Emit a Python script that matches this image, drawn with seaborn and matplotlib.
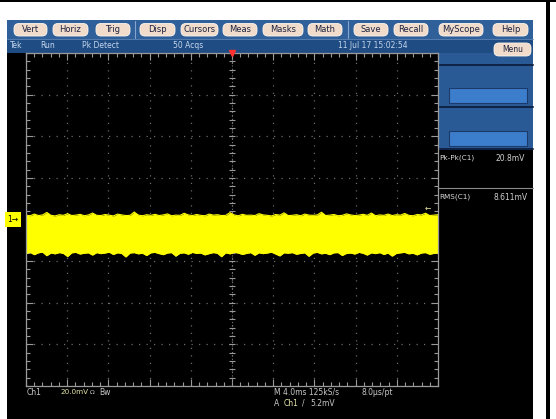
import numpy as np
import pandas as pd
import matplotlib
matplotlib.use("Agg")
import matplotlib.pyplot as plt
import seaborn as sns
from matplotlib.patches import Rectangle, FancyBboxPatch

# ---------------- data ----------------
menu_buttons = ["Vert", "Horiz", "Trig", "Disp", "Cursors", "Meas",
                "Masks", "Math", "Save", "Recall", "MyScope", "Help"]
status_items = ["Tek", "Run", "Pk Detect", "50 Acqs", "11 Jul 17 15:02:54"]
meas_labels = ["Pk-Pk(C1)", "RMS(C1)"]
meas_values = ["20.8mV", "8.611mV"]
ch_readout = ["Ch1", "20.0mV", "\u03a9", "Bw"]
horiz_readout = ["M 4.0ms 125kS/s", "8.0\u00b5s/pt"]
trig_readout = ["A", "Ch1", "/", "5.2mV"]

time_div_ms = 4.0     # horizontal scale
volt_div_mv = 20.0    # vertical scale
n_hdiv = 10
n_vdiv = 8
trigger_level_mv = 5.2

trace_upper = [2.1, 1.8, 2.6, 1.9, 2.2, 3.4, 2.0, 1.7, 2.3, 2.0, 2.8, 1.9, 2.1, 2.5, 1.8, 2.2, 3.1, 2.0, 1.9, 2.4,
               2.1, 1.7, 2.6, 2.2, 1.9, 2.0, 3.6, 2.1, 1.8, 2.3, 2.0, 2.5, 1.9, 2.2, 2.7, 1.8, 2.1, 2.0, 3.0, 2.2,
               1.9, 2.4, 2.0, 1.8, 2.6, 2.1, 2.3, 1.9, 2.0, 3.3, 2.2, 1.8, 2.5, 2.0, 2.1, 1.9, 2.8, 2.2, 2.0, 1.7,
               2.4, 2.1, 3.2, 1.9, 2.0, 2.3, 1.8, 2.6, 2.1, 2.0, 2.2, 3.5, 1.9, 2.1, 2.4, 1.8, 2.0, 2.7, 2.2, 1.9,
               2.1, 2.5, 2.0, 3.1, 1.8, 2.2, 2.0, 2.6, 1.9, 2.3, 2.1, 2.9, 2.0, 1.8, 2.4, 2.2, 3.0, 1.9, 2.1, 2.3]
trace_lower = [-16.2, -15.8, -16.9, -16.0, -15.7, -17.4, -16.1, -16.5, -15.9, -16.3, -17.8, -16.0, -15.8, -16.6, -16.2, -16.0, -17.1, -15.9, -16.4, -16.1,
               -15.7, -16.8, -16.0, -16.3, -18.0, -16.1, -15.9, -16.5, -16.2, -17.3, -16.0, -15.8, -16.4, -16.9, -16.1, -15.9, -17.6, -16.2, -16.0, -16.7,
               -15.8, -16.3, -16.1, -17.0, -16.4, -15.9, -16.2, -17.9, -16.0, -16.5, -15.8, -16.1, -16.8, -16.3, -15.9, -17.2, -16.0, -16.4, -16.1, -15.7,
               -16.6, -17.5, -16.0, -16.2, -15.9, -16.7, -16.3, -16.0, -17.7, -16.1, -15.8, -16.5, -16.2, -16.9, -16.0, -15.9, -17.3, -16.3, -16.1, -16.6,
               -15.8, -16.2, -17.1, -16.0, -16.4, -15.9, -16.8, -16.1, -17.6, -16.3, -16.0, -15.8, -16.5, -16.2, -17.0, -16.1, -15.9, -16.7, -16.3, -16.0]

# ---------------- figure ----------------
sns.set_style("dark")
plt.rcParams['font.family'] = ['DejaVu Sans']

W, H = 556, 419
fig = plt.figure(figsize=(W / 100, H / 100), dpi=100)
fig.patch.set_facecolor("white")

bg = fig.add_axes([0, 0, 1, 1])
bg.set_xlim(0, W)
bg.set_ylim(H, 0)
bg.axis("off")

# outer frame lines
bg.add_patch(Rectangle((0, 0), W, 2.5, fc="black", ec="none"))
bg.add_patch(Rectangle((546, 0), 3.5, H, fc="black", ec="none"))

# screen
bg.add_patch(Rectangle((7, 20), 526, H - 20, fc="black", ec="none"))
# button bar
bg.add_patch(Rectangle((7, 20), 526, 19, fc="#2f609a", ec="none"))
bg.add_patch(Rectangle((7, 39), 526, 14, fc="#1f4c82", ec="none"))
bg.plot([7, 533], [39, 39], color="#5f86b8", lw=0.6)

btn_x = [(14, 47), (53, 88), (96, 130), (140, 175), (181, 218), (223, 257),
         (263, 303), (308, 342), (354, 388), (394, 428), (439, 483), (493, 528)]
for (x0, x1), name in zip(btn_x, menu_buttons):
    bg.add_patch(FancyBboxPatch((x0, 23.5), x1 - x0, 12.5,
                                boxstyle="round,pad=0,rounding_size=5",
                                fc="#f1dccb", ec="#fff6ee", lw=0.6))
    bg.text((x0 + x1) / 2, 30, name, ha="center", va="center",
            fontsize=6, color="#1b2240")
for xs in (135, 348):
    bg.plot([xs, xs], [21, 38], color="#86a6cf", lw=0.8)

status_x = [10, 40, 82, 173, 338]
for x, s in zip(status_x, status_items):
    bg.text(x, 46, s, ha="left", va="center", fontsize=5.5, color="#c6d6ee")

# right side panel
bg.add_patch(Rectangle((438, 53), 95, 97, fc="#2a5a96", ec="none"))
bg.add_patch(FancyBboxPatch((494, 43), 37, 13, boxstyle="round,pad=0,rounding_size=5",
                            fc="#f1dccb", ec="#fff6ee", lw=0.6))
bg.text(512.5, 49.5, "Menu", ha="center", va="center", fontsize=5.5, color="#1b2240")
for yy in (65, 107, 149):
    bg.plot([438, 533], [yy, yy], color="#0f2344", lw=1.4)
for y0 in (88, 131):
    bg.add_patch(Rectangle((449, y0), 78, 15, fc="#3c7dcc", ec="#1a3a6a", lw=0.8))

bg.text(439, 158, meas_labels[0], ha="left", va="center", fontsize=5.2, color="#d8d8d8")
bg.text(495, 158, meas_values[0], ha="left", va="center", fontsize=5.5, color="#d0d0d0")
bg.plot([438, 533], [188, 188], color="#8a8a8a", lw=0.8)
bg.text(439, 197, meas_labels[1], ha="left", va="center", fontsize=5.2, color="#d8d8d8")
bg.text(494, 197, meas_values[1], ha="left", va="center", fontsize=5.5, color="#d0d0d0")

# bottom readouts
bg.text(27, 392, ch_readout[0], ha="left", va="center", fontsize=5.5, color="#c8c8c8")
bg.text(60, 392, ch_readout[1], ha="left", va="center", fontsize=5.2, color="#e6e6a8")
bg.text(90, 392, ch_readout[2], ha="left", va="center", fontsize=4.5, color="#c8c8c8")
bg.text(99, 392, ch_readout[3], ha="left", va="center", fontsize=5.5, color="#c8c8c8")
bg.text(274, 392, horiz_readout[0], ha="left", va="center", fontsize=5.5, color="#c8c8c8")
bg.text(362, 392, horiz_readout[1], ha="left", va="center", fontsize=5.5, color="#c8c8c8")
bg.text(274, 403, trig_readout[0], ha="left", va="center", fontsize=5.5, color="#c8c8c8")
bg.text(284, 403, trig_readout[1], ha="left", va="center", fontsize=5.5, color="#e6e6a8")
bg.text(302, 403, trig_readout[2], ha="left", va="center", fontsize=5.5, color="#c8c8c8")
bg.text(310, 403, trig_readout[3], ha="left", va="center", fontsize=5.5, color="#c8c8c8")

# ---------------- graticule axes ----------------
gl, gt, gw, gh = 26, 53, 412, 333
ax = fig.add_axes([gl / W, 1 - (gt + gh) / H, gw / W, gh / H])
ax.set_facecolor("black")
half_t = time_div_ms * n_hdiv / 2
half_v = volt_div_mv * n_vdiv / 2
ax.set_xlim(-half_t, half_t)
ax.set_ylim(-half_v, half_v)

maj_x = np.arange(-half_t, half_t + 1e-9, time_div_ms)
min_x = np.arange(-half_t, half_t + 1e-9, time_div_ms / 5)
maj_y = np.arange(-half_v, half_v + 1e-9, volt_div_mv)
min_y = np.arange(-half_v, half_v + 1e-9, volt_div_mv / 5)
ax.set_xticks(maj_x)
ax.set_xticks(min_x, minor=True)
ax.set_yticks(maj_y)
ax.set_yticks(min_y, minor=True)
ax.tick_params(which="both", direction="in", top=True, right=True, bottom=True, left=True,
               labelbottom=False, labelleft=False, color="#9a9a9a", width=0.8)
ax.tick_params(which="major", length=5)
ax.tick_params(which="minor", length=3)
for sp in ax.spines.values():
    sp.set_color("#9a9a9a")
    sp.set_linewidth(0.9)
ax.set_axisbelow(True)
ax.grid(True, which="major", color="#6a6a6a", linestyle=(0, (1, 5)), linewidth=0.9)

ax.axhline(0, color="#7a7a7a", linestyle=(0, (1, 2)), lw=0.8, zorder=0.6)
ax.axvline(0, color="#7a7a7a", linestyle=(0, (1, 2)), lw=0.8, zorder=0.6)
ax.plot(np.zeros_like(min_y), min_y, marker="_", ms=5, mew=0.8, ls="none", color="#9a9a9a", zorder=0.7)
ax.plot(min_x, np.zeros_like(min_x), marker="|", ms=5, mew=0.8, ls="none", color="#9a9a9a", zorder=0.7)

# trace
t = np.linspace(-half_t, half_t, len(trace_upper))
df = pd.DataFrame({"t": t, "hi": trace_upper, "lo": trace_lower})
ax.fill_between(df["t"], df["lo"], df["hi"], color="#ffff00", lw=0, zorder=1)
sns.lineplot(data=df, x="t", y="hi", ax=ax, color="#ffff00", lw=0.8, zorder=1.1)
sns.lineplot(data=df, x="t", y="lo", ax=ax, color="#ffff00", lw=0.8, zorder=1.1)
ax.set_xlabel("")
ax.set_ylabel("")

# trigger position (top) and trigger level (right) markers
ax.plot([0], [half_v], marker="v", ms=5, color="#ff3030", clip_on=False, zorder=5)
ax.annotate("\u2190", xy=(half_t, trigger_level_mv), xytext=(-7, 0), textcoords="offset points",
            ha="center", va="center", fontsize=5.5, color="#e8e8b0", annotation_clip=False)

# channel 1 ground marker
ax.annotate("1\u2192", xy=(-half_t, 0), xytext=(-9.5, 0), textcoords="offset points",
            ha="center", va="center", fontsize=5.5, color="black", annotation_clip=False,
            bbox=dict(boxstyle="square,pad=0.35", fc="#ffff00", ec="none"))

fig.savefig("out.png", dpi=100, facecolor="white")
